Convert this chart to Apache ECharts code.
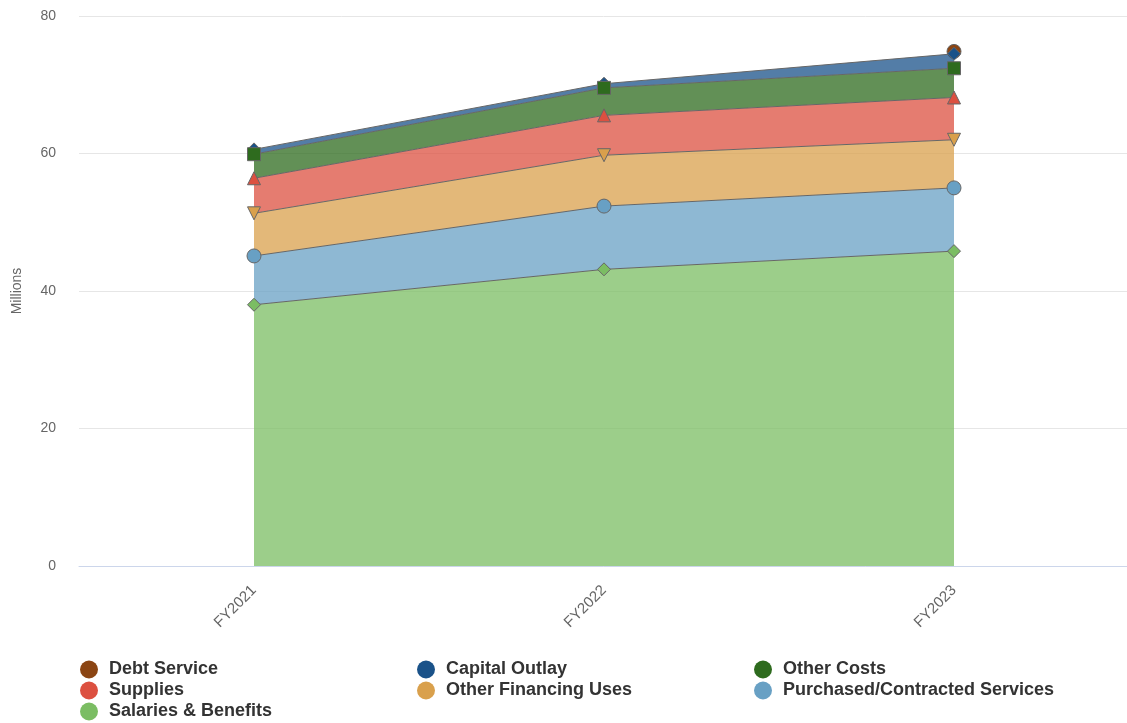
<!DOCTYPE html>
<html>
<head>
<meta charset="utf-8">
<script src="https://cdn.jsdelivr.net/npm/echarts@6/dist/echarts.min.js"></script>
<style>html,body{margin:0;padding:0;background:#fff}#c{width:1127px;height:723px}</style>
</head>
<body>
<div id="c"></div>
<script>
const categories = ['FY2021', 'FY2022', 'FY2023'];
const salariesBenefits = [38.0, 43.15, 45.8];
const purchasedServices = [7.1, 9.2, 9.2];
const otherFinancingUses = [6.2, 7.4, 7.0];
const supplies = [5.1, 5.8, 6.15];
const otherCosts = [3.5, 4.0, 4.25];
const capitalOutlay = [0.7, 0.6, 2.1];
const debtService = [null, null, 0.35];
const yTicks = [0, 20, 40, 60, 80];

const defs = [
  {name: 'Salaries & Benefits', data: salariesBenefits, color: '#7bbd63', symbol: 'diamond', size: 13, z: 9},
  {name: 'Purchased/Contracted Services', data: purchasedServices, color: '#68a0c4', symbol: 'circle', size: 14, z: 8},
  {name: 'Other Financing Uses', data: otherFinancingUses, color: '#d9a04c', symbol: 'path://M0,0 L10,0 L5,10 Z', size: 13, z: 7},
  {name: 'Supplies', data: supplies, color: '#dc5040', symbol: 'triangle', size: 13, z: 6},
  {name: 'Other Costs', data: otherCosts, color: '#2e6b1e', symbol: 'rect', size: 13, z: 5},
  {name: 'Capital Outlay', data: capitalOutlay, color: '#1a5289', symbol: 'diamond', size: 13, z: 4},
  {name: 'Debt Service', data: debtService, color: '#8b4513', symbol: 'circle', size: 14, z: 3}
];

const font = 'Liberation Sans, Arial, sans-serif';
const chart = echarts.init(document.getElementById('c'));
chart.setOption({
  animation: false,
  grid: {left: 79, width: 1050, top: 16, bottom: 157, containLabel: false, outerBoundsMode: 'none'},
  legend: {
    data: ['Debt Service', 'Capital Outlay', 'Other Costs', 'Supplies', 'Other Financing Uses', 'Purchased/Contracted Services', 'Salaries & Benefits'],
    left: 80, top: 659, width: 1047, padding: 0,
    orient: 'horizontal',
    icon: 'circle', itemWidth: 18, itemHeight: 18, itemGap: 0,
    itemStyle: {borderWidth: 0},
    textStyle: {fontFamily: font, fontSize: 18, fontWeight: 'bold', color: '#333', width: 308, lineHeight: 21, padding: [0, 0, 0, 6]}
  },
  xAxis: {
    type: 'category', data: categories, boundaryGap: true,
    axisLine: {lineStyle: {color: '#ccd6eb'}},
    axisTick: {show: false},
    axisLabel: {rotate: 45, color: '#666', fontSize: 15, margin: 22, fontFamily: font}
  },
  yAxis: {
    type: 'value', min: yTicks[0], max: yTicks[yTicks.length - 1], interval: 20,
    name: 'Millions', nameLocation: 'middle', nameGap: 55,
    nameTextStyle: {color: '#666', fontSize: 14, fontFamily: font},
    axisLine: {show: false}, axisTick: {show: false},
    axisLabel: {color: '#666', fontSize: 14, margin: 23, fontFamily: font},
    splitLine: {lineStyle: {color: '#e6e6e6'}}
  },
  series: defs.map(d => ({
    name: d.name, type: 'line', stack: 'total', data: d.data, z: d.z,
    symbol: d.symbol, symbolSize: d.size, showSymbol: true,
    color: d.color,
    itemStyle: {color: d.color, borderColor: '#666', borderWidth: 1},
    lineStyle: {color: '#666', width: 1},
    areaStyle: {color: d.color, opacity: 0.75}
  }))
});
</script>
</body>
</html>
